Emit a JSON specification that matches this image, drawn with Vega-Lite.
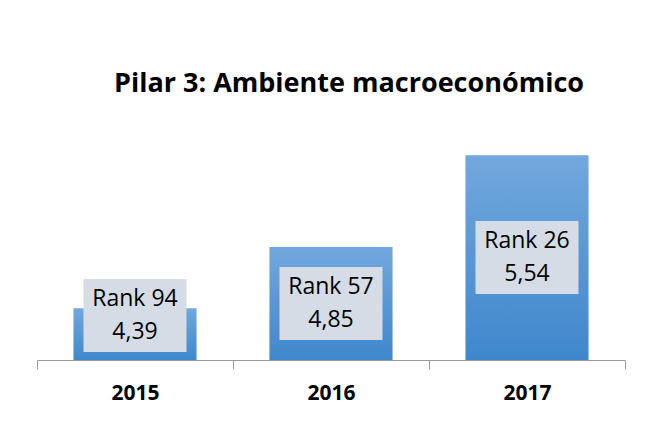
{
  "$schema": "https://vega.github.io/schema/vega-lite/v6.json",
  "width": 588,
  "height": 266,
  "autosize": "none",
  "padding": {"left": 37, "top": 94, "right": 22, "bottom": 80},
  "background": "white",
  "config": {"view": {"stroke": null}, "font": "Open Sans"},
  "title": {
    "text": "Pilar 3: Ambiente macroeconómico",
    "font": "Open Sans",
    "fontSize": 27,
    "fontWeight": "bold",
    "color": "#000000",
    "anchor": "middle",
    "dx": 18,
    "dy": 26,
    "baseline": "alphabetic",
    "offset": 1
  },
  "data": {
    "values": [
      {"anio": "2015", "valor": 4.39, "rank": 94},
      {"anio": "2016", "valor": 4.85, "rank": 57},
      {"anio": "2017", "valor": 5.54, "rank": 26}
    ]
  },
  "transform": [
    {"calculate": "max((datum.valor + 4) / 2, 4.335)", "as": "lab_y"},
    {"calculate": "'Rank ' + datum.rank + '\\n' + replace(format(datum.valor, '.2f'), '.', ',')", "as": "etiqueta"}
  ],
  "encoding": {
    "x": {
      "field": "anio",
      "type": "nominal",
      "scale": {"paddingInner": 0, "paddingOuter": 0},
      "axis": {
        "title": null,
        "labelAngle": 0,
        "labelFont": "Open Sans",
        "labelFontSize": 21,
        "labelFontWeight": "bold",
        "labelColor": "#000000",
        "labelBaseline": "alphabetic",
        "labelPadding": 30,
        "tickBand": "extent",
        "tickSize": 9,
        "tickColor": "#999999",
        "domainColor": "#999999",
        "grid": false
      }
    }
  },
  "layer": [
    {
      "mark": {
        "type": "bar",
        "width": {"band": 0.628},
        "color": {
          "gradient": "linear",
          "x1": 0, "y1": 0, "x2": 0, "y2": 1,
          "stops": [
            {"offset": 0, "color": "#72a8dd"},
            {"offset": 1, "color": "#3f87cc"}
          ]
        }
      },
      "encoding": {
        "y": {"field": "valor", "type": "quantitative", "scale": {"domain": [4, 6], "zero": false, "nice": false}, "axis": null},
        "y2": {"datum": 4}
      }
    },
    {
      "mark": {"type": "rect", "width": 103, "height": 73, "color": "#d6dce5"},
      "encoding": {
        "y": {"field": "lab_y", "type": "quantitative", "scale": {"domain": [4, 6], "zero": false, "nice": false}, "axis": null}
      }
    },
    {
      "mark": {"type": "text", "font": "Open Sans", "fontSize": 23, "lineHeight": 33, "lineBreak": "\n", "color": "#000000", "baseline": "middle", "align": "center", "dy": -16.5},
      "encoding": {
        "y": {"field": "lab_y", "type": "quantitative", "scale": {"domain": [4, 6], "zero": false, "nice": false}, "axis": null},
        "text": {"field": "etiqueta"}
      }
    }
  ]
}
